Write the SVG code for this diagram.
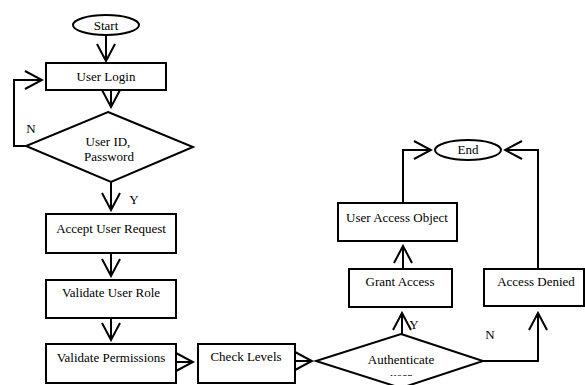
<svg xmlns="http://www.w3.org/2000/svg" width="585" height="385" viewBox="0 0 585 385">
<style>
.shape{fill:#fff;stroke:#000;stroke-width:2}
.t{font-family:"Liberation Serif","Times New Roman",serif;font-size:13px;fill:#000;text-anchor:middle}
.c{fill:none;stroke:#000;stroke-width:2;marker-end:url(#arr)}
</style>
<defs>
<marker id="arr" markerUnits="userSpaceOnUse" viewBox="0 0 20 20" markerWidth="20" markerHeight="20" refX="18" refY="10" orient="auto">
<path d="M1,1 L18,10 L1,19" fill="none" stroke="#000" stroke-width="2"/>
</marker>
<clipPath id="clipAuth"><rect x="300" y="330" width="200" height="46"/></clipPath>
</defs>
<g id="connectors">
<path class="c" d="M106,35 V61"/>
<path class="c" d="M111,90 V107"/>
<path class="c" d="M26,146 H14 V80 H42"/>
<path class="c" d="M111,182 V210"/>
<path class="c" d="M111,253 V276"/>
<path class="c" d="M111,318 V340"/>
<path class="c" d="M176,362 H193"/>
<path class="c" d="M295,361 H312"/>
<path class="c" d="M402,334 V313"/>
<path class="c" d="M403,269 V246"/>
<path class="c" d="M403,203 V150 H431"/>
<path class="c" d="M538,269 V150 H505"/>
<path class="c" d="M483,361 H538 V313"/>
<text class="t" x="31" y="133">N</text>
<text class="t" x="134" y="204">Y</text>
<text class="t" x="414" y="329">Y</text>
<text class="t" x="490" y="339">N</text>
</g>
<g id="start"><ellipse class="shape" cx="106" cy="25" rx="33" ry="10"/><text class="t" x="106" y="29.5">Start</text></g>
<g id="login"><rect class="shape" x="46" y="63" width="120" height="27"/><text class="t" x="106" y="81">User Login</text></g>
<g id="credentials"><polygon class="shape" points="108,112 193,147 111,182 26,146"/><text class="t" x="108" y="146">User ID,</text><text class="t" x="109" y="161">Password</text></g>
<g id="accept"><rect class="shape" x="46" y="214" width="130" height="39"/><text class="t" x="111" y="233">Accept User Request</text></g>
<g id="role"><rect class="shape" x="46" y="280" width="130" height="38"/><text class="t" x="111" y="297">Validate User Role</text></g>
<g id="perm"><rect class="shape" x="46" y="344" width="130" height="39"/><text class="t" x="111" y="362">Validate Permissions</text></g>
<g id="check"><rect class="shape" x="198" y="344" width="97" height="39"/><text class="t" x="246" y="361">Check Levels</text></g>
<g id="auth"><polygon class="shape" points="401,334 483,361 401,388 316,361"/><text class="t" x="401" y="364">Authenticate</text><text class="t" x="401" y="381" clip-path="url(#clipAuth)">user</text></g>
<g id="grant"><rect class="shape" x="349" y="269" width="103" height="38"/><text class="t" x="400" y="286">Grant Access</text></g>
<g id="uao"><rect class="shape" x="338" y="203" width="119" height="38"/><text class="t" x="397" y="222">User Access Object</text></g>
<g id="denied"><rect class="shape" x="484" y="269" width="100" height="37"/><text class="t" x="536" y="286">Access Denied</text></g>
<g id="end"><ellipse class="shape" cx="468" cy="150" rx="33" ry="10"/><text class="t" x="468" y="154">End</text></g>
</svg>
